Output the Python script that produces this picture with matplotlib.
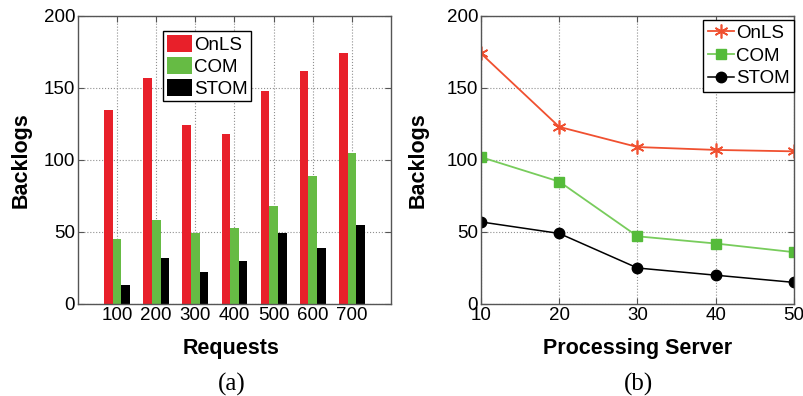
import matplotlib
matplotlib.use("Agg")
import matplotlib.pyplot as plt
import numpy as np

plt.rcParams['font.family'] = ['Liberation Sans', 'DejaVu Sans']

# ---- data ----
requests = [100, 200, 300, 400, 500, 600, 700]
bar_onls = [135, 157, 124, 118, 148, 162, 174]
bar_com = [45, 58, 49, 53, 68, 89, 105]
bar_stom = [13, 32, 22, 30, 49, 39, 55]

servers = [10, 20, 30, 40, 50]
line_onls = [174, 123, 109, 107, 106]
line_com = [102, 85, 47, 42, 36]
line_stom = [57, 49, 25, 20, 15]

series_names = ["OnLS", "COM", "STOM"]
yticks = [0, 50, 100, 150, 200]

W, H = 804, 396
fig = plt.figure(figsize=(W / 100, H / 100), dpi=100)

def px_axes(l, r, t, b):
    return fig.add_axes([l / W, 1 - b / H, (r - l) / W, (b - t) / H])

ax1 = px_axes(78, 391, 16, 304)
ax2 = px_axes(481, 794, 16, 304)

red = '#e8202a'
green = '#66bb44'

def style(ax):
    ax.set_ylim(0, 200)
    ax.set_yticks(yticks)
    ax.grid(True, linestyle=':', color='#909090', linewidth=0.8)
    ax.set_axisbelow(True)
    for s in ax.spines.values():
        s.set_color('#555555')
        s.set_linewidth(1.0)
    ax.tick_params(direction='in', length=4, width=0.8, color='#555555',
                   labelsize=13.5, top=True, right=True, pad=2)
    ax.set_ylabel("Backlogs", fontsize=15.5, fontweight='bold')

# ---- left: grouped bars ----
bw = 22
x = np.array(requests, dtype=float)
ax1.bar(x - bw, bar_onls, width=bw, color=red, label=series_names[0])
ax1.bar(x, bar_com, width=bw, color=green, label=series_names[1])
ax1.bar(x + bw, bar_stom, width=bw, color='black', label=series_names[2])
ax1.set_xlim(0, 800)
ax1.set_xticks(requests)
style(ax1)
ax1.set_xlabel("Requests", fontsize=15.5, fontweight='bold')
ax1.xaxis.set_label_coords(0.49, -0.118)
ax1.yaxis.set_label_coords(-0.147, 0.5)
leg1 = ax1.legend(loc='upper left', bbox_to_anchor=(163 / W, 1 - 31 / H),
                  bbox_transform=fig.transFigure, fontsize=13.5,
                  handlelength=1.35, handleheight=1.05, labelspacing=0.15,
                  handletextpad=0.1, borderpad=0.2, borderaxespad=0,
                  fancybox=False, framealpha=1)
leg1.get_frame().set_edgecolor('black')
leg1.get_frame().set_linewidth(1.0)

# ---- right: lines ----
ax2.plot(servers, line_onls, color='#f05030', marker=(6, 2, 0), markersize=10,
         markeredgewidth=1.2, linewidth=1.3, label=series_names[0])
ax2.plot(servers, line_com, color='#78cc5c', marker='s', markersize=7.5,
         markerfacecolor='#55bb3a', markeredgecolor='#55bb3a',
         linewidth=1.3, label=series_names[1])
ax2.plot(servers, line_stom, color='black', marker='o', markersize=7.5,
         linewidth=1.1, label=series_names[2])
ax2.set_xlim(10, 50)
ax2.set_xticks(servers)
style(ax2)
ax2.set_xlabel("Processing Server", fontsize=15.5, fontweight='bold')
ax2.xaxis.set_label_coords(0.5, -0.118)
ax2.yaxis.set_label_coords(-0.168, 0.5)
leg2 = ax2.legend(loc='upper left', bbox_to_anchor=(703 / W, 1 - 20 / H),
                  bbox_transform=fig.transFigure, fontsize=13.5,
                  handlelength=1.4, labelspacing=0.3,
                  handletextpad=0.1, borderpad=0.25, borderaxespad=0,
                  fancybox=False, framealpha=1)
leg2.get_frame().set_edgecolor('black')
leg2.get_frame().set_linewidth(1.0)

# ---- captions ----
fig.text(232 / W, 1 - 384 / H, "(a)", ha='center', va='center',
         fontsize=18, family=['Liberation Serif', 'DejaVu Serif'])
fig.text(639 / W, 1 - 384 / H, "(b)", ha='center', va='center',
         fontsize=18, family=['Liberation Serif', 'DejaVu Serif'])

fig.savefig("out.png", dpi=100)
